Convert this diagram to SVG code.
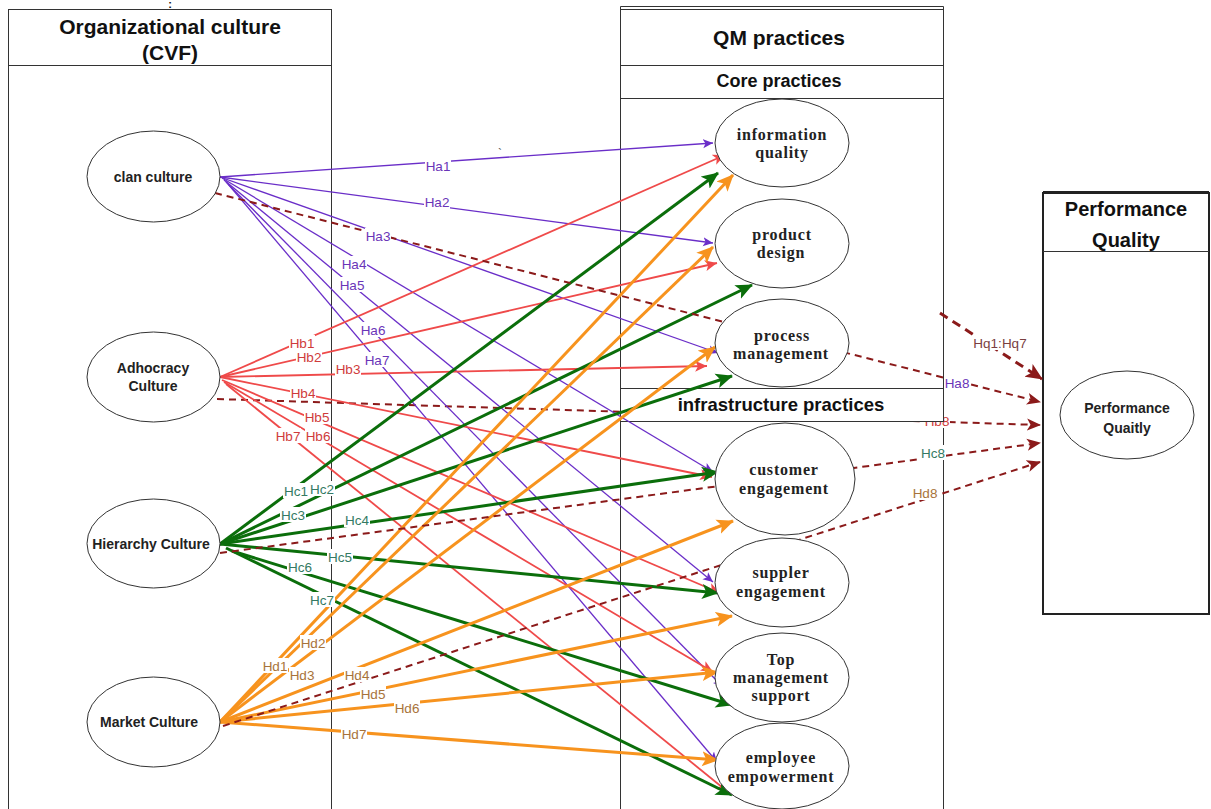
<svg xmlns="http://www.w3.org/2000/svg" width="1211" height="809" viewBox="0 0 1211 809">
  <style>
    .box { fill: #fff; stroke: #333; stroke-width: 1; }
    .boxthick { fill: #fff; stroke: #222; stroke-width: 2; }
    .sep { stroke: #333; stroke-width: 1; }
    .hdr { font-family: "Liberation Sans", Arial, sans-serif; font-weight: bold; fill: #111; text-anchor: middle; }
    .node { fill: #fff; stroke: #333; stroke-width: 1; }
    .ntxt { font-family: "Liberation Sans", Arial, sans-serif; font-weight: bold; font-size: 14px; fill: #222; text-anchor: middle; }
    .stxt { font-family: "Liberation Serif", "Times New Roman", serif; font-weight: bold; font-size: 16px; letter-spacing: 0.8px; fill: #222; text-anchor: middle; }
    .e { fill: none; stroke-linecap: butt; }
    .pu { stroke: #6a2ec8; stroke-width: 1.3; marker-end: url(#mP); }
    .rd { stroke: #ef4a4a; stroke-width: 1.8; marker-end: url(#mR); }
    .gr { stroke: #0b6e0b; stroke-width: 3; marker-end: url(#mG); }
    .or { stroke: #f7931e; stroke-width: 3; marker-end: url(#mO); }
    .dr { stroke: #8b1a1a; stroke-width: 2; stroke-dasharray: 7 5; marker-end: url(#mD); }
    .dq { stroke: #8b1a1a; stroke-width: 3; stroke-dasharray: 9 6; marker-end: url(#mQ); }
    .lbl rect { fill: #fff; }
    .lbl text { font-family: "Liberation Sans", Arial, sans-serif; font-size: 13.5px; text-anchor: middle; }
    .la text { fill: #6a35b8; }
    .lb text { fill: #cf3b3b; }
    .lc text { fill: #347a63; }
    .ld text { fill: #a8733a; }
    .lq text { fill: #7a3f3f; }
  </style>
  <defs>
    <marker id="mP" viewBox="0 -5 10 10" refX="10" refY="0" markerWidth="10" markerHeight="10" markerUnits="userSpaceOnUse" orient="auto">
      <path d="M0,-4.5 L10,0 L0,4.5 L2.5,0 Z" fill="#6a2ec8"/>
    </marker>
    <marker id="mR" viewBox="0 -6 12 12" refX="12" refY="0" markerWidth="12" markerHeight="12" markerUnits="userSpaceOnUse" orient="auto">
      <path d="M0,-5.5 L12,0 L0,5.5 L3,0 Z" fill="#ef4a4a"/>
    </marker>
    <marker id="mG" viewBox="0 -8 17 16" refX="16" refY="0" markerWidth="17" markerHeight="16" markerUnits="userSpaceOnUse" orient="auto">
      <path d="M0,-7.5 L17,0 L0,7.5 L4,0 Z" fill="#0b6e0b"/>
    </marker>
    <marker id="mO" viewBox="0 -8 17 16" refX="16" refY="0" markerWidth="17" markerHeight="16" markerUnits="userSpaceOnUse" orient="auto">
      <path d="M0,-7.5 L17,0 L0,7.5 L4,0 Z" fill="#f7931e"/>
    </marker>
    <marker id="mD" viewBox="0 -7 14 14" refX="13" refY="0" markerWidth="14" markerHeight="14" markerUnits="userSpaceOnUse" orient="auto">
      <path d="M0,-6 L14,0 L0,6 L3.5,0 Z" fill="#8b1a1a"/>
    </marker>
    <marker id="mQ" viewBox="0 -8 17 16" refX="16" refY="0" markerWidth="17" markerHeight="16" markerUnits="userSpaceOnUse" orient="auto">
      <path d="M0,-7.5 L17,0 L0,7.5 L4,0 Z" fill="#8b1a1a"/>
    </marker>
  </defs>

  <rect width="1211" height="809" fill="#fff"/>

  <!-- swimlane containers -->
  <g id="lane-culture">
    <rect class="box" x="8.5" y="9.5" width="323" height="820"/>
    <line class="sep" x1="8.5" y1="65.5" x2="331.5" y2="65.5"/>
    <text class="hdr" x="170" y="34" font-size="21">Organizational culture</text>
    <text class="hdr" x="170" y="60" font-size="21">(CVF)</text>
    <text class="hdr" x="170" y="8" font-size="11">:</text>
  </g>
  <g id="lane-qm">
    <rect class="box" x="620.5" y="9.5" width="323" height="820"/>
    <path class="sep" fill="none" d="M620.5,9.5 V6.5 H943.5 V9.5"/>
    <line class="sep" x1="620.5" y1="65.5" x2="943.5" y2="65.5"/>
    <text class="hdr" x="779" y="45" font-size="21">QM practices</text>
    <line class="sep" x1="620.5" y1="98.5" x2="943.5" y2="98.5"/>
    <text class="hdr" x="779" y="86.5" font-size="18">Core practices</text>
  </g>
  <g id="lane-performance">
    <rect class="boxthick" x="1043" y="193" width="166" height="421"/>
    <line stroke="#222" stroke-width="1" x1="1043" y1="191.5" x2="1209" y2="191.5"/>
    <line class="sep" x1="1043" y1="251.5" x2="1209" y2="251.5"/>
    <text class="hdr" x="1126" y="216" font-size="20">Performance</text>
    <text class="hdr" x="1126" y="247" font-size="20">Quality</text>
  </g>

  <!-- adhocracy to performance link, passes under the infrastructure band -->
  <g id="connectors-under-band">
    <path class="e dr" d="M217,399 L1040,425"/>
    <g class="lbl lb" transform="translate(937,421)"><rect x="-13" y="-8" width="26" height="15"/><text y="4.5">Hb8</text></g>
  </g>

  <g id="lane-infrastructure">
    <rect class="box" x="620.5" y="388.5" width="323" height="33"/>
    <text class="hdr" x="781" y="410.5" font-size="18.5">infrastructure practices</text>
  </g>

  <g id="connectors">
    <!-- clan culture -->
    <path class="e pu" d="M220,177 L713,143"/>
    <path class="e pu" d="M220,177 L713,243"/>
    <path class="e pu" d="M220,177 L718,353"/>
    <path class="e pu" d="M222,178 L713,472"/>
    <path class="e pu" d="M224,180 L713,582"/>
    <path class="e pu" d="M226,182 L723,687"/>
    <path class="e pu" d="M228,184 L717,762"/>
    <!-- adhocracy culture -->
    <path class="e rd" d="M220,377 L725,155"/>
    <path class="e rd" d="M220,377 L717,263"/>
    <path class="e rd" d="M220,377 L707,366"/>
    <path class="e rd" d="M220,377 L712,477"/>
    <path class="e rd" d="M222,380 L720,593"/>
    <path class="e rd" d="M224,382 L713,672"/>
    <path class="e rd" d="M226,384 L728,792"/>
    <!-- hierarchy culture -->
    <path class="e gr" d="M220,544 L718,173"/>
    <path class="e gr" d="M220,544 L752,285"/>
    <path class="e gr" d="M220,544 L732,376"/>
    <path class="e gr" d="M220,544 L718,472"/>
    <path class="e gr" d="M220,544 L718,593"/>
    <path class="e gr" d="M232,551 L732,705"/>
    <path class="e gr" d="M226,548 L732,795"/>
    <!-- market culture -->
    <path class="e or" d="M220,722 L733,175"/>
    <path class="e or" d="M220,722 L713,247"/>
    <path class="e or" d="M220,722 L715,347"/>
    <path class="e or" d="M220,722 L733,521"/>
    <path class="e or" d="M220,722 L732,616"/>
    <path class="e or" d="M220,722 L718,672"/>
    <path class="e or" d="M220,722 L718,760"/>
    <!-- culture to performance -->
    <path class="e dr" d="M215,193 L1040,402"/>
    <path class="e dr" d="M220,553 L1040,443"/>
    <path class="e dr" d="M223,726 L1040,462"/>
    <path class="e dq" d="M940,313 L1042,379"/>

    <!-- labels -->
    <text x="498" y="158" font-family="Liberation Sans, Arial, sans-serif" font-size="12" fill="#555">`</text>
    <g class="lbl la" transform="translate(438,166)"><rect x="-13" y="-8" width="26" height="15"/><text y="4.5">Ha1</text></g>
    <g class="lbl la" transform="translate(437,202)"><rect x="-13" y="-8" width="26" height="15"/><text y="4.5">Ha2</text></g>
    <g class="lbl la" transform="translate(378,236)"><rect x="-13" y="-8" width="26" height="15"/><text y="4.5">Ha3</text></g>
    <g class="lbl la" transform="translate(354,264)"><rect x="-13" y="-8" width="26" height="15"/><text y="4.5">Ha4</text></g>
    <g class="lbl la" transform="translate(352,285)"><rect x="-13" y="-8" width="26" height="15"/><text y="4.5">Ha5</text></g>
    <g class="lbl la" transform="translate(373,330)"><rect x="-13" y="-8" width="26" height="15"/><text y="4.5">Ha6</text></g>
    <g class="lbl la" transform="translate(377,360)"><rect x="-13" y="-8" width="26" height="15"/><text y="4.5">Ha7</text></g>

    <g class="lbl lb" transform="translate(302,343)"><rect x="-13" y="-8" width="26" height="15"/><text y="4.5">Hb1</text></g>
    <g class="lbl lb" transform="translate(309,357)"><rect x="-13" y="-8" width="26" height="15"/><text y="4.5">Hb2</text></g>
    <g class="lbl lb" transform="translate(348,369)"><rect x="-13" y="-8" width="26" height="15"/><text y="4.5">Hb3</text></g>
    <g class="lbl lb" transform="translate(303,393)"><rect x="-13" y="-8" width="26" height="15"/><text y="4.5">Hb4</text></g>
    <g class="lbl lb" transform="translate(317,417)"><rect x="-13" y="-8" width="26" height="15"/><text y="4.5">Hb5</text></g>
    <g class="lbl lb" transform="translate(318,436)"><rect x="-13" y="-8" width="26" height="15"/><text y="4.5">Hb6</text></g>
    <g class="lbl lb" transform="translate(288,436)"><rect x="-13" y="-8" width="26" height="15"/><text y="4.5">Hb7</text></g>

    <g class="lbl lc" transform="translate(296,491)"><rect x="-13" y="-8" width="26" height="15"/><text y="4.5">Hc1</text></g>
    <g class="lbl lc" transform="translate(322,489)"><rect x="-13" y="-8" width="26" height="15"/><text y="4.5">Hc2</text></g>
    <g class="lbl lc" transform="translate(293,515)"><rect x="-13" y="-8" width="26" height="15"/><text y="4.5">Hc3</text></g>
    <g class="lbl lc" transform="translate(357,520)"><rect x="-13" y="-8" width="26" height="15"/><text y="4.5">Hc4</text></g>
    <g class="lbl lc" transform="translate(340,557)"><rect x="-13" y="-8" width="26" height="15"/><text y="4.5">Hc5</text></g>
    <g class="lbl lc" transform="translate(300,567)"><rect x="-13" y="-8" width="26" height="15"/><text y="4.5">Hc6</text></g>
    <g class="lbl lc" transform="translate(322,600)"><rect x="-13" y="-8" width="26" height="15"/><text y="4.5">Hc7</text></g>

    <g class="lbl ld" transform="translate(275,666)"><rect x="-13" y="-8" width="26" height="15"/><text y="4.5">Hd1</text></g>
    <g class="lbl ld" transform="translate(313,643)"><rect x="-13" y="-8" width="26" height="15"/><text y="4.5">Hd2</text></g>
    <g class="lbl ld" transform="translate(302,675)"><rect x="-13" y="-8" width="26" height="15"/><text y="4.5">Hd3</text></g>
    <g class="lbl ld" transform="translate(357,675)"><rect x="-13" y="-8" width="26" height="15"/><text y="4.5">Hd4</text></g>
    <g class="lbl ld" transform="translate(373,694)"><rect x="-13" y="-8" width="26" height="15"/><text y="4.5">Hd5</text></g>
    <g class="lbl ld" transform="translate(407,708)"><rect x="-13" y="-8" width="26" height="15"/><text y="4.5">Hd6</text></g>
    <g class="lbl ld" transform="translate(354,734)"><rect x="-13" y="-8" width="26" height="15"/><text y="4.5">Hd7</text></g>

    <g class="lbl la" transform="translate(957,383)"><rect x="-13" y="-8" width="26" height="15"/><text y="4.5">Ha8</text></g>
    <g class="lbl lc" transform="translate(933,453)"><rect x="-13" y="-8" width="26" height="15"/><text y="4.5">Hc8</text></g>
    <g class="lbl ld" transform="translate(925,493)"><rect x="-13" y="-8" width="26" height="15"/><text y="4.5">Hd8</text></g>
    <g class="lbl lq" transform="translate(1000,343)"><rect x="-28" y="-8" width="56" height="15"/><text y="4.5">Hq1:Hq7</text></g>
  </g>

  <!-- culture types -->
  <g id="node-clan">
    <ellipse class="node" cx="153.5" cy="176.5" rx="66.5" ry="45.5"/>
    <text class="ntxt" x="153" y="182">clan culture</text>
  </g>
  <g id="node-adhocracy">
    <ellipse class="node" cx="153.5" cy="377" rx="66.5" ry="45"/>
    <text class="ntxt" x="153" y="373">Adhocracy</text>
    <text class="ntxt" x="153" y="391">Culture</text>
  </g>
  <g id="node-hierarchy">
    <ellipse class="node" cx="153.5" cy="543.5" rx="66.5" ry="44.5"/>
    <text class="ntxt" x="151" y="549">Hierarchy Culture</text>
  </g>
  <g id="node-market">
    <ellipse class="node" cx="153.5" cy="722" rx="66.5" ry="45"/>
    <text class="ntxt" x="149" y="727">Market Culture</text>
  </g>

  <!-- QM practices -->
  <g id="node-information-quality">
    <ellipse class="node" cx="782" cy="143" rx="67" ry="44"/>
    <text class="stxt" x="782" y="140">information</text>
    <text class="stxt" x="782" y="158">quality</text>
  </g>
  <g id="node-product-design">
    <ellipse class="node" cx="782" cy="243.5" rx="67" ry="44.5"/>
    <text class="stxt" x="782" y="240">product</text>
    <text class="stxt" x="781" y="258">design</text>
  </g>
  <g id="node-process-management">
    <ellipse class="node" cx="782" cy="343" rx="67" ry="44"/>
    <text class="stxt" x="782" y="341">process</text>
    <text class="stxt" x="781" y="359">management</text>
  </g>
  <g id="node-customer-engagement">
    <ellipse class="node" cx="785" cy="479" rx="70" ry="56"/>
    <text class="stxt" x="784" y="475">customer</text>
    <text class="stxt" x="784" y="494">engagement</text>
  </g>
  <g id="node-supplier-engagement">
    <ellipse class="node" cx="782" cy="582.5" rx="67" ry="44.5"/>
    <text class="stxt" x="781" y="578">suppler</text>
    <text class="stxt" x="781" y="597">engagement</text>
  </g>
  <g id="node-top-management">
    <ellipse class="node" cx="782" cy="677.5" rx="67" ry="44.5"/>
    <text class="stxt" x="781" y="665">Top</text>
    <text class="stxt" x="781" y="683">management</text>
    <text class="stxt" x="781" y="701">support</text>
  </g>
  <g id="node-employee-empowerment">
    <ellipse class="node" cx="782" cy="766" rx="67" ry="43"/>
    <text class="stxt" x="781" y="763">employee</text>
    <text class="stxt" x="781" y="782">empowerment</text>
  </g>

  <!-- performance -->
  <g id="node-performance">
    <ellipse class="node" cx="1127" cy="415" rx="67" ry="44"/>
    <text class="ntxt" x="1127" y="413">Performance</text>
    <text class="ntxt" x="1127" y="433">Quaitly</text>
  </g>
</svg>
